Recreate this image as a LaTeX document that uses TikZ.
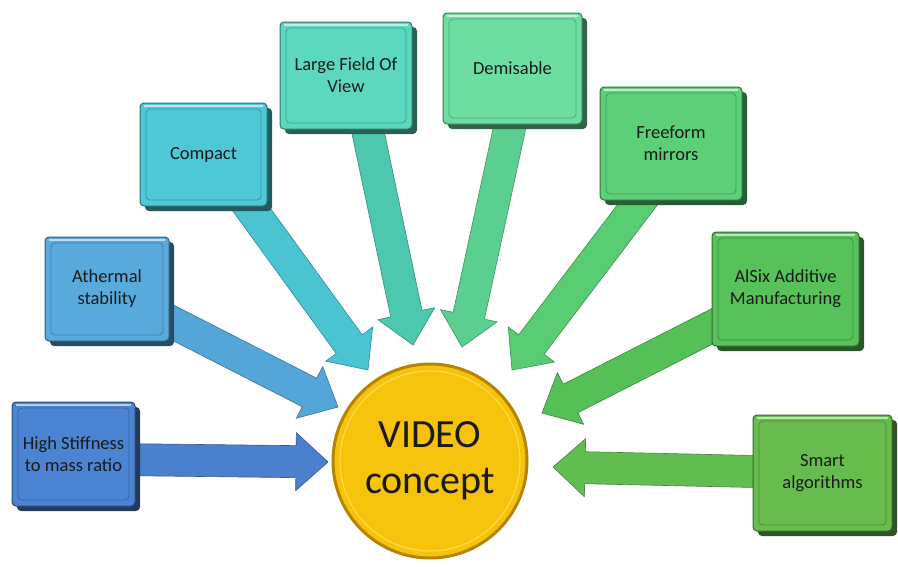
\documentclass[tikz,border=0pt]{standalone}
\usepackage{fontspec}
\setmainfont{Carlito}
\usetikzlibrary{calc,shadows}
\pgfdeclarelayer{bg}
\pgfsetlayers{bg,main}
\definecolor{c1}{HTML}{4C84D4}
\definecolor{c2}{HTML}{58AADC}
\definecolor{c3}{HTML}{4EC8D6}
\definecolor{c4}{HTML}{5CD8BE}
\definecolor{c5}{HTML}{6CDEA2}
\definecolor{c6}{HTML}{5CCF78}
\definecolor{c7}{HTML}{58C25A}
\definecolor{c8}{HTML}{68BC4E}
\definecolor{a1}{HTML}{4A80CE}
\definecolor{a2}{HTML}{55A6D8}
\definecolor{a3}{HTML}{4AC4D0}
\definecolor{a4}{HTML}{4CC8AE}
\definecolor{a5}{HTML}{5ACF90}
\definecolor{a6}{HTML}{58CC72}
\definecolor{a7}{HTML}{55C056}
\definecolor{a8}{HTML}{62BD50}
\definecolor{gold}{HTML}{F5C20C}
\definecolor{goldrim}{HTML}{B58400}
\definecolor{goldhi}{HTML}{FFDA4A}
\definecolor{txt}{HTML}{1A1A1A}
\newcommand{\blockarrow}[3]{%
  \path (#1) coordinate (ba-a) (#2) coordinate (ba-b);
  \path ($(ba-b)!32pt!(ba-a)$) coordinate (ba-h);
  \filldraw[fill=#3, draw=#3!70!black, line width=0.6pt]
    ($(ba-a)!16pt!90:(ba-b)$) -- ($(ba-h)!16pt!-90:(ba-a)$) --
    ($(ba-h)!29pt!-90:(ba-a)$) -- (ba-b) --
    ($(ba-h)!29pt!90:(ba-a)$) -- ($(ba-h)!16pt!90:(ba-a)$) --
    ($(ba-a)!16pt!-90:(ba-b)$) -- cycle;
}
\tikzset{
  box/.style={rectangle, rounded corners=4pt, fill=#1, draw=#1!55!black,
    line width=1pt, align=center, text=txt, inner sep=2pt,
    font=\fontsize{18.5}{22}\selectfont,
    drop shadow={shadow xshift=5pt, shadow yshift=-5pt, fill=#1!45!black, opacity=1},
    path picture={
      \draw[#1!75!black, line width=0.8pt]
        ([xshift=6pt,yshift=-6pt]path picture bounding box.north west) rectangle
        ([xshift=-6pt,yshift=6pt]path picture bounding box.south east);
      \draw[white, opacity=0.6, line width=1.2pt]
        ([xshift=4pt,yshift=-3pt]path picture bounding box.north west) --
        ([xshift=-4pt,yshift=-3pt]path picture bounding box.north east);
    }},
  hub/.style={circle, minimum size=194pt, inner sep=0pt, fill=gold,
    draw=goldrim, line width=3pt, align=center, text=txt,
    font=\fontsize{40}{46}\selectfont,
    path picture={
      \draw[goldhi, line width=1.2pt] (path picture bounding box.center) circle (90pt);
    }}
}
\begin{document}
\begin{tikzpicture}[x=1pt, y=-1pt]
\useasboundingbox (0,0) rectangle (898,566);

\node[hub] (c) at (430,461) {VIDEO\\concept};

\node[box=c1, minimum width=123pt, minimum height=104pt] (n1) at (73.5,454) {High Stiffness\\to mass ratio};
\node[box=c2, minimum width=124pt, minimum height=104pt] (n2) at (107,289) {Athermal\\stability};
\node[box=c3, minimum width=127pt, minimum height=103pt] (n3) at (203.5,154.5) {Compact};
\node[box=c4, minimum width=132pt, minimum height=107pt] (n4) at (346,75.5) {Large Field Of\\View};
\node[box=c5, minimum width=139pt, minimum height=111pt] (n5) at (512.5,68.5) {Demisable};
\node[box=c6, minimum width=142pt, minimum height=113pt] (n6) at (671,143.5) {Freeform\\mirrors};
\node[box=c7, minimum width=147pt, minimum height=114pt] (n7) at (785.5,289) {AlSix Additive\\Manufacturing};
\node[box=c8, minimum width=139pt, minimum height=116pt] (n8) at (822.5,473) {Smart\\algorithms};

\begin{pgfonlayer}{bg}
\fill[white] (0,0) rectangle (898,566);
\blockarrow{$(n1.center)+(0,5)$}{$(c)+(-102,1)$}{a1}
\blockarrow{n2.center}{$(c)+(-92,-54)$}{a2}
\blockarrow{$(n3.center)+(8,0)$}{$(c)+(-62,-91)$}{a3}
\blockarrow{$(n4.center)+(10,0)$}{$(c)+(-17,-116)$}{a4}
\blockarrow{$(n5.center)+(10,0)$}{$(c)+(32,-114)$}{a5}
\blockarrow{$(n6.center)+(13,0)$}{$(c)+(82,-91)$}{a6}
\blockarrow{n7.center}{$(c)+(112,-48)$}{a7}
\blockarrow{n8.center}{$(c)+(123,6)$}{a8}
\end{pgfonlayer}
\end{tikzpicture}
\end{document}
